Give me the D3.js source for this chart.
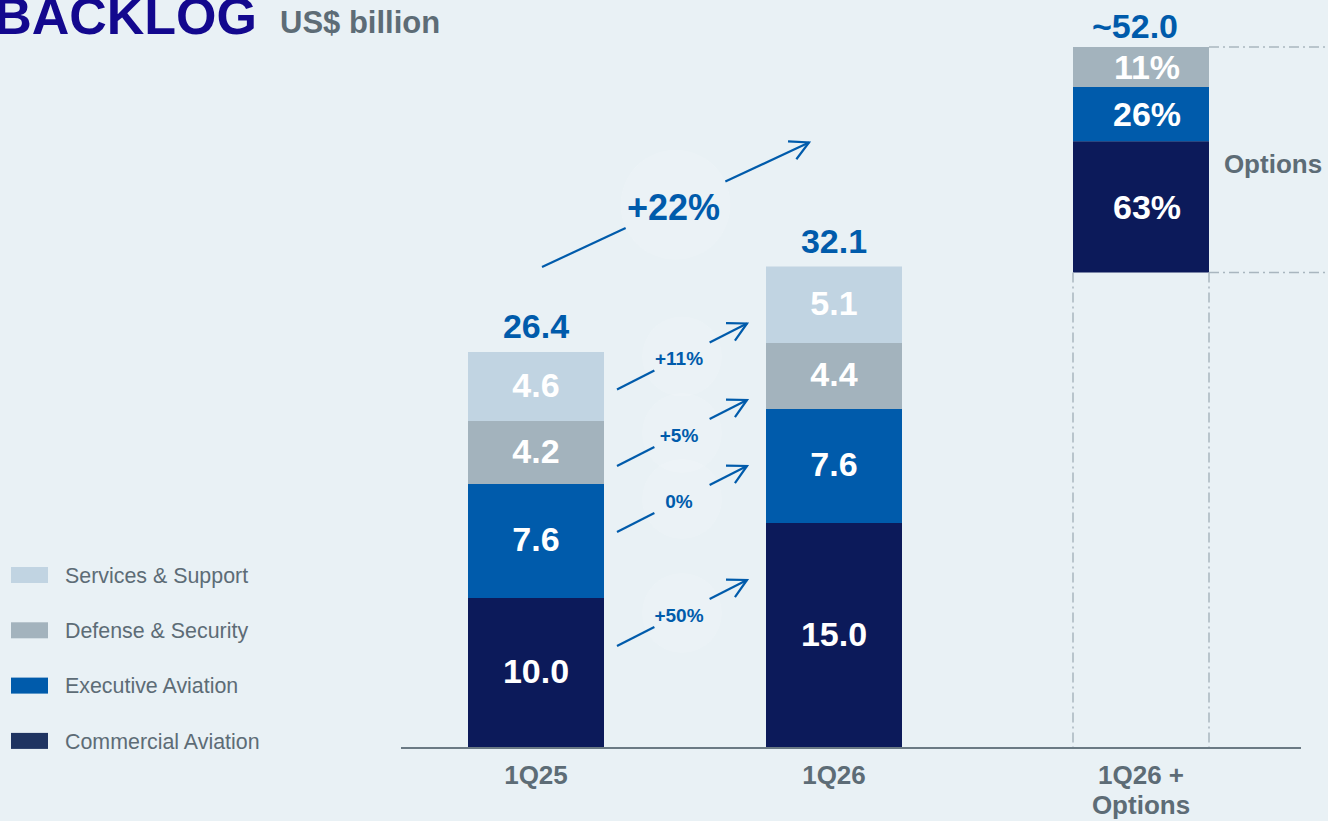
<!DOCTYPE html>
<html>
<head>
<meta charset="utf-8">
<script src="https://cdn.jsdelivr.net/npm/d3@7"></script>
<style>
  html, body { margin: 0; padding: 0; background: #e9f1f5; }
  svg { display: block; }
  text { font-family: "Liberation Sans", Arial, sans-serif; }
</style>
</head>
<body>
<svg id="chart" width="1328" height="821"></svg>
<script>
// ---------------- DATA ----------------
const categories = ["1Q25", "1Q26", "1Q26 + Options"];
const segments = ["Commercial Aviation", "Executive Aviation", "Defense & Security", "Services & Support"];
const backlog1Q25 = [10.0, 7.6, 4.2, 4.6];
const backlog1Q26 = [15.0, 7.6, 4.4, 5.1];
const totals = [26.4, 32.1];
const optionsTotalLabel = "~52.0";
const optionsSegments = ["Commercial Aviation", "Executive Aviation", "Defense & Security"];
const optionsShare = [63, 26, 11];
const segmentGrowth = ["+50%", "0%", "+5%", "+11%"];
const totalGrowth = "+22%";
const legendOrder = ["Services & Support", "Defense & Security", "Executive Aviation", "Commercial Aviation"];

// ---------------- STYLE ----------------
const W = 1328, H = 821;
const barColor = {
  "Commercial Aviation": "#0c1a5a",
  "Executive Aviation": "#005bab",
  "Defense & Security": "#a3b3bd",
  "Services & Support": "#c1d4e2"
};
const legendColor = Object.assign({}, barColor, {"Commercial Aviation": "#1f3461"});
const blue = "#005bab";
const grayText = "#5d6c76";

const svg = d3.select("#chart");
svg.append("rect").attr("width", W).attr("height", H).attr("fill", "#e9f1f5");

// ---------------- SCALES ----------------
const x = d3.scaleOrdinal().domain(categories).range([536, 834, 1141]);
const barW = 136;
const y = d3.scaleLinear().domain([0, 35]).range([748, 223]);
const optTop = 47;
const optBase = y(totals[1]) + 6;

// ---------------- TITLE ----------------
svg.append("text").attr("x", 257).attr("y", 34).attr("text-anchor", "end")
  .attr("font-size", 52).attr("font-weight", "bold").attr("fill", "#13088e")
  .text("BACKLOG");
svg.append("text").attr("x", 280).attr("y", 33)
  .attr("font-size", 31).attr("font-weight", "bold").attr("fill", grayText)
  .text("US$ billion");

// ---------------- STACKS ----------------
function stackOf(values, keys) {
  let acc = 0;
  return values.map((v, i) => { const d = {key: keys[i], y0: acc, y1: acc + v, v}; acc += v; return d; });
}
const stacks = [
  {cat: categories[0], parts: stackOf(backlog1Q25, segments), total: totals[0]},
  {cat: categories[1], parts: stackOf(backlog1Q26, segments), total: totals[1]}
];

const gBars = svg.append("g");
stacks.forEach(s => {
  const g = gBars.append("g");
  g.selectAll("rect").data(s.parts).join("rect")
    .attr("x", x(s.cat) - barW / 2).attr("width", barW)
    .attr("y", d => y(d.y1)).attr("height", d => y(d.y0) - y(d.y1))
    .attr("fill", d => barColor[d.key]);
  g.selectAll("text.val").data(s.parts).join("text").attr("class", "val")
    .attr("x", x(s.cat)).attr("y", d => (y(d.y0) + y(d.y1)) / 2 - 2)
    .attr("dy", "0.36em").attr("text-anchor", "middle")
    .attr("font-size", 34).attr("font-weight", "bold").attr("fill", "#ffffff")
    .text(d => d3.format(".1f")(d.v));
  g.append("text").attr("x", x(s.cat)).attr("y", y(s.total) - 14)
    .attr("text-anchor", "middle").attr("font-size", 34).attr("font-weight", "bold")
    .attr("fill", blue).text(d3.format(".1f")(s.total));
});

// Options stack (share-based, with a minimum segment height so labels fit)
const optH = optBase - optTop, minH = 40;
const small = optionsShare.map(v => v / 100 * optH < minH);
const restShare = d3.sum(optionsShare.filter((v, i) => !small[i]));
const restH = optH - minH * small.filter(Boolean).length;
const hScale = d3.scaleLinear().domain([0, restShare]).range([0, restH]);
let accH = 0;
const optParts = optionsShare.map((v, i) => {
  const h = small[i] ? minH : hScale(v);
  const d = {key: optionsSegments[i], v, yb: optBase - accH, yt: optBase - accH - h};
  accH += h; return d;
});
const xo = x(categories[2]);
const gOpt = svg.append("g");
gOpt.selectAll("rect").data(optParts).join("rect")
  .attr("x", xo - barW / 2).attr("width", barW)
  .attr("y", d => d.yt).attr("height", d => d.yb - d.yt)
  .attr("fill", d => barColor[d.key]);
gOpt.selectAll("text").data(optParts).join("text")
  .attr("x", xo + 6).attr("y", d => (d.yb + d.yt) / 2)
  .attr("dy", "0.36em").attr("text-anchor", "middle")
  .attr("font-size", 34).attr("font-weight", "bold").attr("fill", "#ffffff")
  .text(d => d.v + "%");
svg.append("text").attr("x", xo - 6).attr("y", optTop - 9).attr("text-anchor", "middle")
  .attr("font-size", 34).attr("font-weight", "bold").attr("fill", blue).text(optionsTotalLabel);

// Dash-dot guides
const guide = svg.append("g").attr("stroke", "#a9b6bf").attr("stroke-width", 1.5)
  .attr("stroke-dasharray", "10,4,2,4").attr("fill", "none");
[xo - barW / 2, xo + barW / 2].forEach(xx => {
  guide.append("line").attr("x1", xx).attr("x2", xx).attr("y1", optBase).attr("y2", y(0));
});
[optBase, optTop].forEach(yy => {
  guide.append("line").attr("x1", xo + barW / 2).attr("x2", W).attr("y1", yy).attr("y2", yy);
});
svg.append("text").attr("x", 1273).attr("y", (optBase + optTop) / 2 + 13).attr("text-anchor", "middle")
  .attr("font-size", 26).attr("font-weight", "bold").attr("fill", grayText).text("Options");

// ---------------- AXIS ----------------
svg.append("line").attr("x1", 401).attr("x2", 1301).attr("y1", y(0)).attr("y2", y(0))
  .attr("stroke", "#6b7a84").attr("stroke-width", 2);
const catLabels = svg.append("g");
categories.forEach(c => {
  const t = catLabels.append("text").attr("x", x(c)).attr("y", 784).attr("text-anchor", "middle")
    .attr("font-size", 26).attr("font-weight", "bold").attr("fill", grayText);
  const parts = c.includes("+") ? [c.slice(0, c.indexOf("+") + 1), c.slice(c.indexOf("+") + 2)] : [c];
  parts.forEach((p, i) => t.append("tspan").attr("x", x(c)).attr("dy", i === 0 ? 0 : 30).text(p));
});

// ---------------- ARROWS ----------------
function arrow(g, x1, y1, x2, y2, gap, label, fs, r, tdx) {
  const cx = (x1 + x2) / 2, cy = (y1 + y2) / 2;
  const len = Math.hypot(x2 - x1, y2 - y1);
  const ux = (x2 - x1) / len, uy = (y2 - y1) / len;
  g.append("circle").attr("cx", cx).attr("cy", cy).attr("r", r)
    .attr("fill", "#ffffff").attr("opacity", 0.12).attr("stroke", "none");
  g.append("line").attr("x1", x1).attr("y1", y1).attr("x2", cx - ux * gap).attr("y2", cy - uy * gap);
  g.append("line").attr("x1", cx + ux * gap).attr("y1", cy + uy * gap).attr("x2", x2).attr("y2", y2);
  const ang = Math.atan2(-uy, -ux), a = 28 * Math.PI / 180, L = 21;
  const p1 = [x2 + L * Math.cos(ang - a), y2 + L * Math.sin(ang - a)];
  const p2 = [x2 + L * Math.cos(ang + a), y2 + L * Math.sin(ang + a)];
  g.append("polyline").attr("points", [p1, [x2, y2], p2].map(p => p.join(",")).join(" ")).attr("fill", "none");
  g.append("text").attr("x", cx + (tdx || 0)).attr("y", cy + 2).attr("dy", "0.36em").attr("text-anchor", "middle")
    .attr("font-size", fs).attr("font-weight", "bold").attr("fill", blue).attr("stroke", "none").text(label);
}
const gArr = svg.append("g").attr("stroke", blue).attr("stroke-width", 2.2);
const xs = x(categories[0]) + barW / 2 + 13, xe = x(categories[1]) - barW / 2 - 19;
const dyA = (xe - xs) * 0.508;
stacks[1].parts.forEach((p, i) => {
  const cy = y(p.y1) + 90;
  arrow(gArr, xs, cy + dyA / 2, xe, cy - dyA / 2, 31, segmentGrowth[i], 19, 40, -3);
});
arrow(gArr, x(categories[0]) + 6, y(totals[0]) - 85, x(categories[1]) - 25, y(totals[1]) - 124, 55, totalGrowth, 36, 55, -2);

// ---------------- LEGEND ----------------
const leg = svg.append("g");
legendOrder.forEach((k, i) => {
  const yy = 575 + i * 55.3;
  leg.append("rect").attr("x", 11).attr("y", yy - 8).attr("width", 37).attr("height", 16).attr("fill", legendColor[k]);
  leg.append("text").attr("x", 65).attr("y", yy).attr("dy", "0.36em")
    .attr("font-size", 21.4).attr("fill", grayText).text(k);
});
</script>
</body>
</html>
